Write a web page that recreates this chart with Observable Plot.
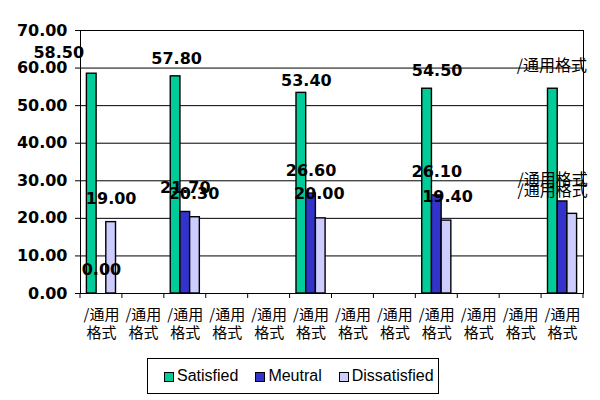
<!DOCTYPE html>
<html><head><meta charset="utf-8">
<script src="https://cdn.jsdelivr.net/npm/d3@7"></script>
<script src="https://cdn.jsdelivr.net/npm/@observablehq/plot@0.6"></script>
<style>
html,body{margin:0;padding:0;background:#fff}
body{position:relative;width:600px;height:400px;overflow:hidden;font-family:"Liberation Sans",Arial,sans-serif}
#chart svg{display:block;overflow:visible}
#legend{position:absolute;left:147px;top:358px;width:292px;height:36px;box-sizing:border-box;border:1.5px solid #000;display:flex;align-items:center;padding-left:16px;font-size:16px;color:#000;background:#fff;white-space:nowrap}
#legend .item{display:flex;align-items:center;margin-right:17px}
#legend .sw{width:8px;height:8px;border:1.5px solid #000;margin-right:3px;margin-top:1px}
</style></head>
<body>
<div id="chart"></div>
<div id="legend"></div>
<script>
// ---- data ----
const categories = ["c1","c2","c3","c4","c5","c6","c7","c8","c9","c10","c11","c12"];
const tickLabel = "/通用\n格式";
const series = ["Satisfied", "Meutral", "Dissatisfied"];
const satisfied    = [58.5, null, 57.8, null, null, 53.4, null, null, 54.5, null, null, 54.5];
const neutral      = [0.0,  null, 21.7, null, null, 26.6, null, null, 26.1, null, null, 24.5];
const dissatisfied = [19.0, null, 20.3, null, null, 20.0, null, null, 19.4, null, null, 21.2];
const labelFormat  = ["0.00","0.00","0.00","0.00","0.00","0.00","0.00","0.00","0.00","0.00","0.00","/通用格式"];
const yTicks = [0, 10, 20, 30, 40, 50, 60, 70];

// ---- styles ----
const colors = ["#00cc99", "#3333cc", "#ccccff"];
const marginLeft = 80, marginRight = 17, W = 600;
const band = (W - marginLeft - marginRight) / categories.length;
const barW = 9.7;
const groupStart = (band - 3 * barW) / 2;
// per-label nudges [dx, dy] (label placement as in the original)
const labelNudge = {
  c1:  [[-33, -21], [0, -24], [0, -23]],
  c3:  [[1, -17], [0, -24.5], [-1, -23]],
  c6:  [[5, -12], [0, -23], [-1.5, -24]],
  c9:  [[10, -18], [0, -23.5], [1, -23.5]],
  c12: [[-1, -23], [-10, -22], [-19.5, -23]]
};

const valuesBySeries = [satisfied, neutral, dissatisfied];
const rows = [];
valuesBySeries.forEach((vals, si) => {
  vals.forEach((v, ci) => {
    if (v == null) return;
    const fmt = labelFormat[ci];
    rows.push({cat: categories[ci], si, series: series[si], value: v,
      text: fmt === "0.00" ? d3.format(".2f")(v) : fmt});
  });
});

const barMarks = series.map((s, si) => {
  const inL = groupStart + barW * si;
  const inR = band - inL - barW;
  return Plot.barY(rows.filter(r => r.si === si), {
    x: "cat", y: "value", fill: colors[si], stroke: "#000", strokeWidth: 1.4,
    insetLeft: inL, insetRight: inR
  });
});

const labelMarks = rows.map(r => {
  const [nx, ny] = labelNudge[r.cat][r.si];
  const center = groupStart + barW * (r.si + 0.5) - band / 2;
  const isNum = r.text !== "/通用格式";
  return Plot.text([r], {
    x: "cat", y: "value", text: "text",
    dx: center + nx, dy: ny, lineAnchor: "middle", textAnchor: "middle",
    fill: "#000",
    fontSize: 16,
    fontWeight: isNum ? "bold" : "normal",
    fontFamily: isNum ? "DejaVu Sans" : "Noto Sans CJK SC"
  });
});

const xBoundaryTicks = (index, scales, values, dims) => {
  const x = scales.x;
  const bw = x.bandwidth ? x.bandwidth() : band;
  const y0 = dims.height - dims.marginBottom;
  const xs = categories.map(c => x(c)).concat([x(categories[categories.length - 1]) + bw]);
  const g = d3.create("svg:g").attr("stroke", "#000").attr("stroke-width", 1);
  xs.forEach(xv => g.append("line").attr("x1", xv).attr("x2", xv).attr("y1", y0).attr("y2", y0 + 5));
  return g.node();
};

const chart = Plot.plot({
  width: W, height: 350,
  marginLeft, marginRight, marginTop: 30, marginBottom: 57,
  style: {background: "#fff", overflow: "visible"},
  x: {type: "band", domain: categories, padding: 0, round: false, axis: null, label: null},
  y: {domain: [0, 70], axis: null, label: null},
  marks: [
    Plot.gridY(yTicks, {stroke: "#000", strokeOpacity: 1, strokeWidth: 1}),
    ...barMarks,
    Plot.frame({stroke: "#000", strokeWidth: 1}),
    Plot.axisY(yTicks, {
      label: null,
      tickSize: 5, tickPadding: 8, stroke: "#000",
      tickFormat: d => d3.format(".2f")(d),
      fontSize: 16, fontWeight: "bold", fontFamily: "DejaVu Sans", fill: "#000"
    }),
    Plot.axisX({
      label: null,
      tickSize: 0, tickPadding: 14.5, tickFormat: () => tickLabel,
      fontSize: 15, fontFamily: "Noto Sans CJK SC", lineHeight: 1.17, fill: "#000"
    }),
    xBoundaryTicks,
    ...labelMarks
  ]
});
document.getElementById("chart").appendChild(chart);

const legend = document.getElementById("legend");
series.forEach((s, i) => {
  const it = document.createElement("div");
  it.className = "item";
  const sw = document.createElement("div");
  sw.className = "sw";
  sw.style.background = colors[i];
  const t = document.createElement("span");
  t.textContent = s;
  it.appendChild(sw); it.appendChild(t);
  legend.appendChild(it);
});
</script>
</body></html>
